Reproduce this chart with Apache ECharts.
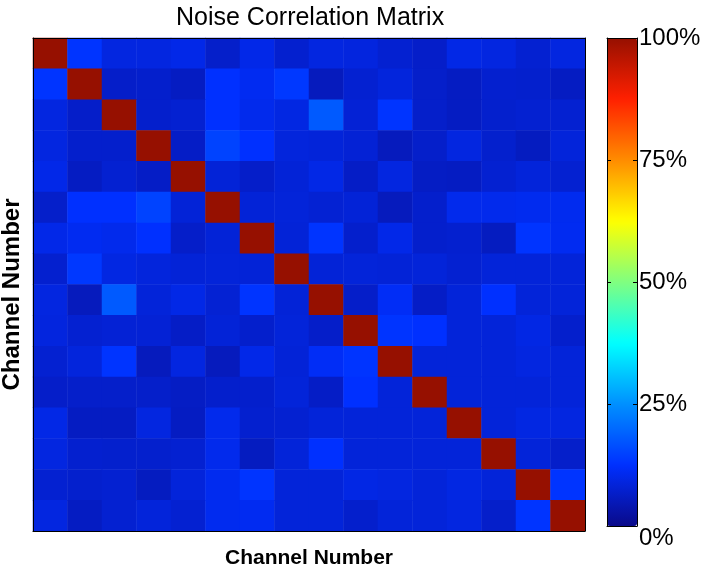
<!DOCTYPE html>
<html><head><meta charset="utf-8">
<script src="https://cdn.jsdelivr.net/npm/echarts@6/dist/echarts.min.js"></script>
<style>html,body{margin:0;padding:0;background:#fff}#c{width:706px;height:571px}</style>
</head><body><div id="c"></div>
<script>
// Channel categories (1..16)
const channels = ['1','2','3','4','5','6','7','8','9','10','11','12','13','14','15','16'];
// Noise correlation values in percent, row = channel (top to bottom), column = channel (left to right)
const correlation = [
  [100,13,9.2,9.2,10,6.8,10,7.4,9.2,9,7.6,6.7,9.8,9.2,7.6,9.2],
  [13,100,6.7,7,6,12.5,11,13.5,5.5,7.6,8.8,6.8,6,7.4,7.2,6],
  [9.2,6.7,100,7,7.6,12.5,10.5,9.4,18,8,13,6.8,6,7.2,7.6,7.6],
  [9.2,7,7,100,6.4,15,12.5,8.8,8.4,8,5.5,6.8,9.2,7.2,5.8,8.6],
  [10,6,7.6,6.4,100,8.2,6.7,8.2,9.8,6.4,9.2,6.2,6,7.6,8.6,7.6],
  [6.8,12.5,12.5,15,8.2,100,8.2,8.4,7.8,8.2,5.5,7,10.5,10.5,10.8,10.8],
  [10,11,10.5,12.5,6.7,8.2,100,8.2,13,7,10,7,7.4,5.8,13,11],
  [7.4,13.5,9.4,8.8,8.2,8.4,8.2,100,8.2,8.4,8.2,8.4,7.6,8.4,8.4,8.4],
  [9.2,5.5,18,8.4,9.8,7.8,13,8.2,100,6.7,11.5,6.4,8.4,12.5,8.4,8.4],
  [9,7.6,8,8,6.4,8.2,7,8.4,6.7,100,13,12.5,8.4,8.4,9.6,7],
  [7.6,8.8,13,5.5,9.2,5.5,10,8.2,11.5,13,100,8.4,8.4,8.4,9.2,8.4],
  [6.7,6.8,6.8,6.8,6.2,7,7,8.4,6.4,12.5,8.4,100,8.4,8.4,8.4,8.4],
  [9.8,6,6,9.2,6,10.5,7.4,7.6,8.4,8.4,8.4,8.4,100,8.4,9.4,9.2],
  [9.2,7.4,7.2,7.2,7.6,10.5,5.8,8.4,12.5,8.4,8.4,8.4,8.4,100,8.4,6.8],
  [7.6,7.2,7.6,5.8,8.6,10.8,13,8.4,8.4,9.6,9.2,8.4,9.4,8.4,100,13],
  [9.2,6,7.6,8.6,7.6,10.8,11,8.4,8.4,7,8.4,8.4,9.2,6.8,13,100]
];
// Colorbar range and ticks (percent)
const colorMin = 0;
const colorMax = 100;
const colorTickStep = 25;
// Jet-like colormap stops
const jetColors = ['#0a0a8a','#0030ff','#0090ff','#00ffff','#80ff80','#ffff00','#ff8c00','#ff2000','#961000'];

const heatData = [];
correlation.forEach((row, i) => row.forEach((v, j) => heatData.push([j, i, v])));

const black = '#000';
const lineOn = {show: true, onZero: false, lineStyle: {color: black, width: 1}};
const noTick = {show: false};
const noLabel = {show: false};
const noSplit = {show: false};

const chart = echarts.init(document.getElementById('c'));
chart.setOption({
  animation: false,
  backgroundColor: '#fff',
  title: {
    text: 'Noise Correlation Matrix',
    left: 176, top: 6, padding: 0,
    textStyle: {fontFamily: 'Liberation Sans', fontSize: 25, fontWeight: 'normal', color: black}
  },
  grid: [
    {left: 33, top: 38, width: 552, height: 493, outerBoundsMode: 'none', containLabel: false},
    {left: 607, top: 38, width: 30, height: 488, outerBoundsMode: 'none', containLabel: false}
  ],
  xAxis: [
    {type: 'category', data: channels, gridIndex: 0, position: 'bottom',
     name: 'Channel Number', nameLocation: 'middle', nameGap: 17,
     nameTextStyle: {fontFamily: 'Liberation Sans', fontSize: 21, fontWeight: 'bold', color: black},
     axisLine: lineOn, axisTick: noTick, axisLabel: noLabel, splitLine: noSplit, z: 10},
    {type: 'category', data: channels, gridIndex: 0, position: 'top',
     axisLine: lineOn, axisTick: noTick, axisLabel: noLabel, splitLine: noSplit, z: 10},
    {type: 'value', gridIndex: 1, position: 'bottom', min: 0, max: 1,
     axisLine: lineOn, axisTick: noTick, axisLabel: noLabel, splitLine: noSplit, z: 10},
    {type: 'value', gridIndex: 1, position: 'top', min: 0, max: 1,
     axisLine: lineOn, axisTick: noTick, axisLabel: noLabel, splitLine: noSplit, z: 10}
  ],
  yAxis: [
    {type: 'category', data: channels, inverse: true, gridIndex: 0, position: 'left',
     name: 'Channel Number', nameLocation: 'middle', nameRotate: 90, nameGap: 9,
     nameTextStyle: {fontFamily: 'Liberation Sans', fontSize: 24, fontWeight: 'bold', color: black, padding: [0, 20, 0, 0]},
     axisLine: lineOn, axisTick: noTick, axisLabel: noLabel, splitLine: noSplit, z: 10},
    {type: 'category', data: channels, inverse: true, gridIndex: 0, position: 'right',
     axisLine: lineOn, axisTick: noTick, axisLabel: noLabel, splitLine: noSplit, z: 10},
    {type: 'value', gridIndex: 1, position: 'right', min: colorMin, max: colorMax, interval: colorTickStep,
     axisLine: lineOn,
     axisTick: {show: true, inside: true, length: 4, lineStyle: {color: black, width: 1}},
     axisLabel: {show: true, formatter: '{value}%', margin: 2, fontFamily: 'Liberation Sans', fontSize: 24, color: black, verticalAlignMinLabel: 'top'},
     splitLine: noSplit, z: 10},
    {type: 'value', gridIndex: 1, position: 'left', min: colorMin, max: colorMax, interval: colorTickStep,
     axisLine: lineOn,
     axisTick: {show: true, inside: true, length: 4, lineStyle: {color: black, width: 1}},
     axisLabel: noLabel, splitLine: noSplit, z: 10}
  ],
  visualMap: {
    type: 'continuous', min: colorMin, max: colorMax, seriesIndex: 0, dimension: 2,
    calculable: false, orient: 'vertical', left: 607, top: 38,
    itemWidth: 30, itemHeight: 488, padding: 0, text: null, hoverLink: false,
    inRange: {color: jetColors}
  },
  series: [{
    type: 'heatmap', xAxisIndex: 0, yAxisIndex: 0, data: heatData,
    itemStyle: {borderWidth: 0},
    emphasis: {disabled: true}
  }]
});
</script>
</body></html>
